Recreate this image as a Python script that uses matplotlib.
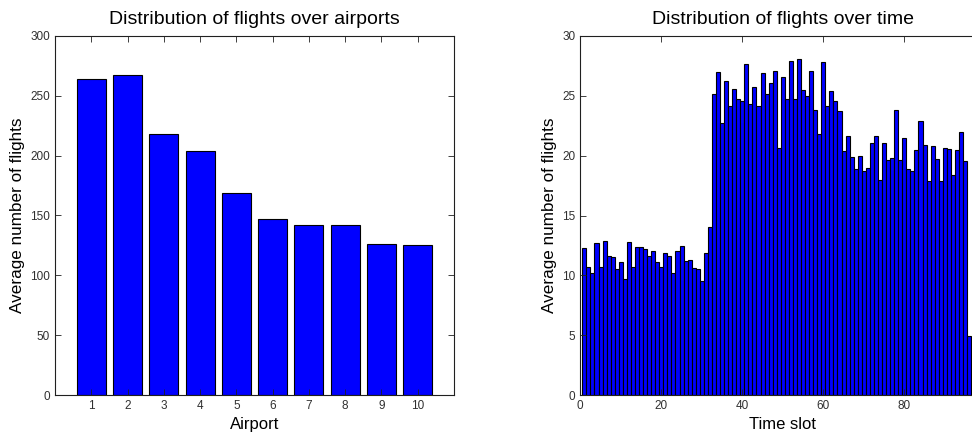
import matplotlib
matplotlib.use("Agg")
import matplotlib.pyplot as plt
import numpy as np

plt.rcParams['font.family'] = ['Liberation Sans', 'DejaVu Sans']

airports = list(range(1, 11))
airport_flights = [263.8, 267.1, 217.8, 203.6, 169.1, 147.1, 142.1, 142.1, 126.5, 125.1]

time_slots = list(range(1, 97))
slot_flights = [
    12.31, 10.69, 10.19, 12.73, 10.69, 12.89, 11.58, 11.50, 10.53, 11.08,
    9.69, 12.78, 10.72, 12.36, 12.36, 12.17, 11.58, 12.03, 11.08, 10.72,
    11.86, 11.58, 10.17, 12.03, 12.42, 11.19, 11.25, 10.61, 10.55, 9.50,
    11.83, 14.01, 25.12, 27.01, 22.72, 26.23, 24.17, 25.59, 24.70, 24.60,
    27.70, 24.30, 25.73, 24.12, 26.93, 25.12, 26.04, 27.10, 20.60, 26.57,
    24.76, 27.93, 24.76, 28.04, 25.45, 24.95, 27.10, 23.78, 21.78, 27.79,
    24.12, 25.40, 24.56, 23.73, 20.38, 21.64, 19.88, 18.88, 19.94, 18.74,
    18.96, 21.03, 21.64, 17.96, 21.08, 19.66, 19.80, 23.84, 19.66, 21.44,
    18.91, 18.69, 20.47, 22.89, 20.89, 17.90, 20.80, 19.69, 17.90, 20.63,
    20.52, 18.38, 20.47, 21.95, 19.55, 4.93,
]

left_yticks = [0, 50, 100, 150, 200, 250, 300]
right_yticks = [0, 5, 10, 15, 20, 25, 30]
right_xticks = [0, 20, 40, 60, 80]

fig = plt.figure(figsize=(9.72, 4.32), dpi=100)
ax1 = fig.add_axes([55 / 972, 37 / 432, 399 / 972, 359 / 432])
ax2 = fig.add_axes([580.3 / 972, 37 / 432, 405 / 972, 359 / 432])

tick_color = '#303030'

def style(ax):
    ax.tick_params(direction='in', top=True, right=True, length=4, width=0.6,
                   labelsize=8.5, labelcolor=tick_color, color='#202020')
    for s in ax.spines.values():
        s.set_linewidth(0.8)
        s.set_color('#202020')

ax1.bar(airports, airport_flights, width=0.8, color='#0000ff', edgecolor='black', linewidth=0.8)
ax1.set_xlim(0, 11)
ax1.set_ylim(0, 300)
ax1.set_xticks(airports)
ax1.set_yticks(left_yticks)
ax1.set_title('Distribution of flights over airports', fontsize=14, pad=9)
ax1.set_xlabel('Airport', fontsize=12, labelpad=4)
ax1.set_ylabel('Average number of flights', fontsize=12.3, labelpad=4)
style(ax1)

ax2.bar(time_slots, slot_flights, width=1.0, color='#0000ff', edgecolor='black', linewidth=0.8)
ax2.set_xlim(0, 100)
ax2.set_ylim(0, 30)
ax2.set_xticks(right_xticks)
ax2.set_yticks(right_yticks)
ax2.set_title('Distribution of flights over time', fontsize=14, pad=9)
ax2.set_xlabel('Time slot', fontsize=12, labelpad=4)
ax2.set_ylabel('Average number of flights', fontsize=12.3, labelpad=4)
style(ax2)

fig.savefig('out.png', dpi=100)
